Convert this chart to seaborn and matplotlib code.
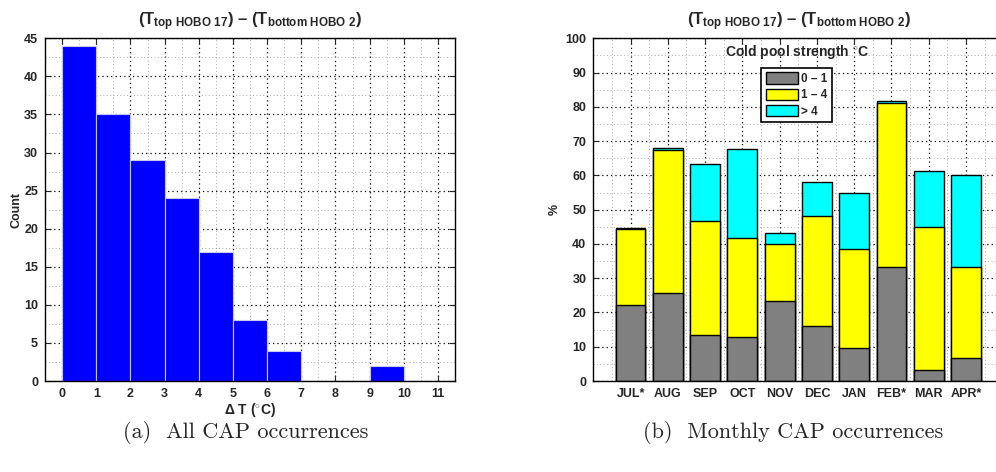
import numpy as np
import pandas as pd
import matplotlib
matplotlib.use("Agg")
import matplotlib.pyplot as plt
from matplotlib import font_manager as fm
from matplotlib.ticker import MultipleLocator
from matplotlib.patches import Patch
import seaborn as sns

# ---------------- data ----------------
bin_edges = [0, 1, 2, 3, 4, 5, 6, 7, 8, 9, 10, 11]
hist_counts = [44, 35, 29, 24, 17, 8, 4, 0, 0, 2, 0]

months = ["JUL*", "AUG", "SEP", "OCT", "NOV", "DEC", "JAN", "FEB*", "MAR", "APR*"]
pct_0_1 = [22.2, 25.7, 13.3, 12.7, 23.2, 16.0, 9.5, 33.3, 3.2, 6.6]
pct_1_4 = [22.2, 41.8, 33.3, 29.1, 16.7, 32.2, 29.1, 47.9, 41.8, 26.6]
pct_gt4 = [0.3, 0.4, 16.6, 25.8, 3.4, 9.8, 16.2, 0.4, 16.2, 26.8]
legend_labels = ["0 – 1", "1 – 4", "> 4"]

# avoid condensed (narrow) faces being picked for "Liberation Sans"
fm.fontManager.ttflist = [f for f in fm.fontManager.ttflist if "narrow" not in f.fname.lower()]
try:
    fm.FontManager._findfont_cached.cache_clear()
except Exception:
    pass

# ---------------- style ----------------
sns.set_style("ticks")
plt.rcParams["font.family"] = ["Liberation Sans", "DejaVu Sans"]
plt.rcParams["font.weight"] = "bold"
plt.rcParams["mathtext.fontset"] = "custom"
plt.rcParams["mathtext.rm"] = "Liberation Sans:bold"
plt.rcParams["mathtext.bf"] = "Liberation Sans:bold"
plt.rcParams["mathtext.it"] = "Liberation Sans:bold"

W, H = 996, 472
fig = plt.figure(figsize=(W / 100, H / 100), dpi=100)

def px_axes(l, t, r, b):
    return fig.add_axes([l / W, 1 - b / H, (r - l) / W, (b - t) / H])

title = "(T$_{\\mathbf{top\\ HOBO\\ 17}}$) – (T$_{\\mathbf{bottom\\ HOBO\\ 2}}$)"

def style_axes(ax):
    ax.set_axisbelow(True)
    ax.grid(which="major", color="black", linestyle=(0, (1, 2.5)), linewidth=0.9)
    ax.grid(which="minor", color="#aaaaaa", linestyle=(0, (1, 2.5)), linewidth=0.7)
    for s in ax.spines.values():
        s.set_visible(True)
        s.set_color("black")
        s.set_linewidth(1.0)
    ax.tick_params(which="major", direction="in", length=4, width=0.8,
                   top=True, right=True, labelsize=9, pad=5)
    ax.tick_params(which="minor", length=0)
    for lab in ax.get_xticklabels() + ax.get_yticklabels():
        lab.set_fontweight("bold")

# ---------------- left: histogram ----------------
ax1 = px_axes(45, 38.3, 455, 381)
centers = [(bin_edges[i] + bin_edges[i + 1]) / 2 for i in range(len(hist_counts))]
sns.histplot(x=centers, weights=hist_counts, bins=bin_edges, ax=ax1,
             color="#0000ff", alpha=1.0, edgecolor="#c8c8f0", linewidth=0.8)
ax1.set_xlim(-0.5, 11.5)
ax1.set_ylim(0, 45)
ax1.xaxis.set_major_locator(MultipleLocator(1))
ax1.xaxis.set_minor_locator(MultipleLocator(0.5))
ax1.yaxis.set_major_locator(MultipleLocator(5))
ax1.yaxis.set_minor_locator(MultipleLocator(2.5))
ax1.set_xlabel("Δ T ($^{\\circ}$C)", fontsize=10, fontweight="bold", labelpad=1)
ax1.set_ylabel("Count", fontsize=9, fontweight="bold", labelpad=1)
ax1.set_title(title, fontsize=12, fontweight="bold", pad=9)
style_axes(ax1)

# ---------------- right: stacked bars ----------------
ax2 = px_axes(593.3, 38.3, 1003.3, 381)
df = pd.DataFrame({"month": months,
                   "a": pct_0_1, "b": pct_1_4, "c": pct_gt4})
df["top3"] = df["a"] + df["b"] + df["c"]
df["top2"] = df["a"] + df["b"]
df["top1"] = df["a"]
colors = ["#808080", "#ffff00", "#00ffff"]
for col, c in zip(["top3", "top2", "top1"], colors[::-1]):
    sns.barplot(data=df, x="month", y=col, ax=ax2, color=c, saturation=1,
                width=0.8, edgecolor="black", linewidth=1.0, errorbar=None)
ax2.set_xlim(-1, 10)
ax2.set_ylim(0, 100)
ax2.xaxis.set_minor_locator(MultipleLocator(0.5))
ax2.yaxis.set_major_locator(MultipleLocator(10))
ax2.yaxis.set_minor_locator(MultipleLocator(5))
ax2.set_xlabel("")
ax2.set_ylabel("%", fontsize=9, fontweight="bold", labelpad=3)
ax2.set_title(title, fontsize=12, fontweight="bold", pad=9, x=(799 - 593.3) / 410)
style_axes(ax2)

fig.text(796.7 / W, 1 - 52 / H, "Cold pool strength $^{\\circ}$C", ha="center", va="center",
         fontsize=10, fontweight="bold")
handles = [Patch(facecolor=c, edgecolor="black", linewidth=1.0) for c in colors]
leg = ax2.legend(handles, legend_labels, loc="upper left",
                 bbox_to_anchor=(761 / W, 1 - 67.7 / H), bbox_transform=fig.transFigure,
                 fancybox=False, framealpha=1, edgecolor="black",
                 prop={"weight": "bold", "size": 8.5},
                 handlelength=2.7, handleheight=1.1, handletextpad=0.3,
                 labelspacing=0.3, borderpad=0.4, borderaxespad=0)
leg.get_frame().set_linewidth(1.2)

# ---------------- captions ----------------
fig.text(245.8 / W, 1 - 432 / H, "(a)  All CAP occurrences", ha="center", va="center",
         fontsize=16, family="cmr10", fontweight="normal")
fig.text(793.5 / W, 1 - 432 / H, "(b)  Monthly CAP occurrences", ha="center", va="center",
         fontsize=16, family="cmr10", fontweight="normal")

fig.savefig("out.png", dpi=100)
